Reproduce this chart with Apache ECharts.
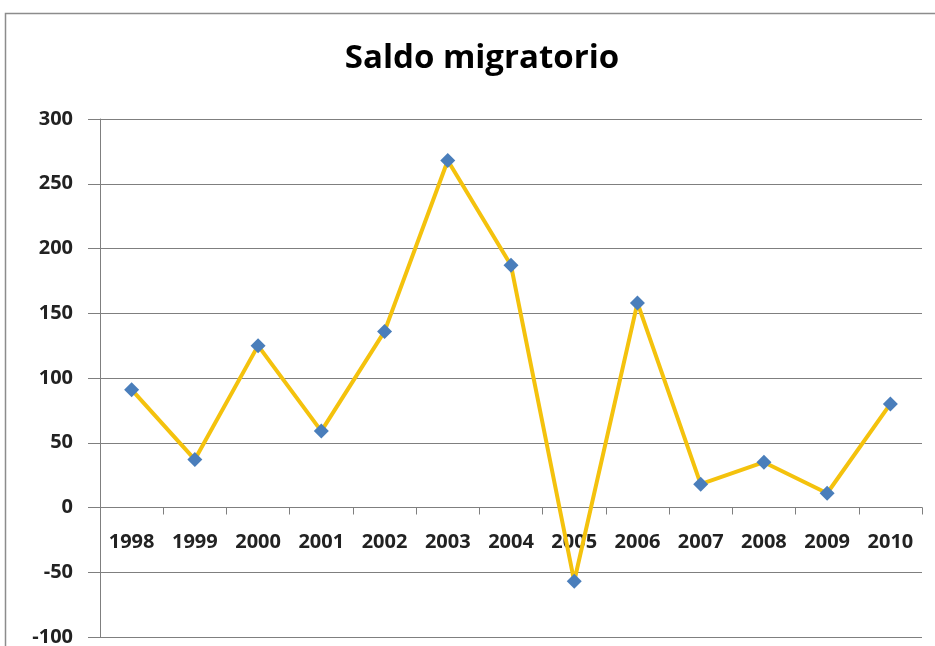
<!DOCTYPE html>
<html><head><meta charset="utf-8">
<script src="https://cdn.jsdelivr.net/npm/echarts@6/dist/echarts.min.js"></script>
<style>html,body{margin:0;padding:0;background:#fff}#c{width:935px;height:646px}</style>
</head><body><div id="c"></div>
<script>
const titleText = 'Saldo migratorio';
const years = ['1998','1999','2000','2001','2002','2003','2004','2005','2006','2007','2008','2009','2010'];
const saldo = [91, 37, 125, 59, 136, 268, 187, -57, 158, 18, 35, 11, 80];
const yTicks = {min: -100, max: 300, interval: 50};

const chart = echarts.init(document.getElementById('c'));
chart.setOption({
  animation: false,
  backgroundColor: '#fff',
  graphic: [{
    type: 'rect', shape: {x: 5.5, y: 13.5, width: 960, height: 700},
    style: {fill: 'none', stroke: '#8c8c8c', lineWidth: 1.5}, silent: true
  }],
  title: {
    text: titleText, left: 477, top: 37, textAlign: 'center',
    textStyle: {fontFamily: 'Open Sans', fontWeight: 'bold', fontSize: 33, color: '#000'}
  },
  grid: {left: 100, right: 13, top: 119, bottom: 9, containLabel: false, outerBoundsMode: 'none'},
  xAxis: {
    type: 'category', data: years, boundaryGap: true, position: 'bottom', offset: -129.5,
    axisLine: {onZero: false, lineStyle: {color: '#7f7f7f', width: 1}},
    axisTick: {show: true, inside: false, length: 7, lineStyle: {color: '#7f7f7f'}},
    axisLabel: {margin: 25, fontFamily: 'Open Sans', fontSize: 20, fontWeight: 'bold', color: '#222', interval: 0},
    splitLine: {show: false}
  },
  yAxis: {
    type: 'value', min: yTicks.min, max: yTicks.max, interval: yTicks.interval,
    axisLine: {show: true, lineStyle: {color: '#7f7f7f', width: 1}},
    axisTick: {show: true, length: 12, lineStyle: {color: '#7f7f7f'}},
    axisLabel: {margin: 27, fontFamily: 'Open Sans', fontSize: 20, fontWeight: 'bold', color: '#222'},
    splitLine: {show: true, lineStyle: {color: '#7f7f7f', width: 1}}
  },
  series: [{
    type: 'line', data: saldo,
    symbol: 'diamond', symbolSize: 15,
    itemStyle: {color: '#4A7EBB'},
    lineStyle: {color: '#F4C20D', width: 4},
    z: 3
  }]
});
</script></body></html>
